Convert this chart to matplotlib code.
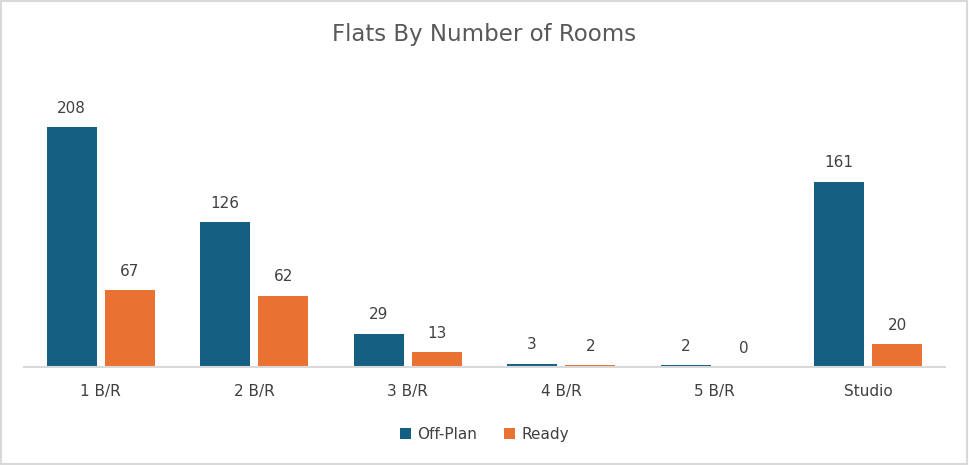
import numpy as np
import matplotlib
matplotlib.use("Agg")
import matplotlib.pyplot as plt
from matplotlib.patches import Rectangle

categories = ["1 B/R", "2 B/R", "3 B/R", "4 B/R", "5 B/R", "Studio"]
off_plan = [208, 126, 29, 3, 2, 161]
ready = [67, 62, 13, 2, 0, 20]

blue = "#156082"
orange = "#E97132"
text_col = "#404040"

plt.rcParams["font.family"] = ["DejaVu Sans"]

fig = plt.figure(figsize=(9.69, 4.65), dpi=100)
fig.patches.append(Rectangle((0.001, 0.002), 0.997, 0.995, transform=fig.transFigure,
                             fill=False, edgecolor="#d9d9d9", linewidth=1.5))

ax = fig.add_axes([24 / 969, (465 - 367) / 465, 921 / 969, (367 - 79) / 465])

x = np.arange(len(categories))
w = 0.326
off = 0.19
b1 = ax.bar(x - off, off_plan, w, color=blue, label="Off-Plan")
b2 = ax.bar(x + off, ready, w, color=orange, label="Ready")

# value labels above each bar
for bars, vals in [(b1, off_plan), (b2, ready)]:
    for b, v in zip(bars, vals):
        ax.annotate(str(v), (b.get_x() + b.get_width() / 2, v), xytext=(0, 8),
                    textcoords="offset points", ha="center", va="bottom",
                    fontsize=11, color=text_col)

ax.set_xlim(-0.5, len(categories) - 0.5)
ax.set_ylim(0, 250)
ax.set_yticks([])
ax.set_xticks(x)
ax.set_xticklabels(categories, fontsize=11, color=text_col)
ax.tick_params(axis="x", length=0, pad=12)
for s in ["top", "right", "left"]:
    ax.spines[s].set_visible(False)
ax.spines["bottom"].set_color("#d9d9d9")
ax.spines["bottom"].set_linewidth(1.5)

fig.suptitle("Flats By Number of Rooms", y=1 - 35 / 465, va="center",
             fontsize=16.5, color="#595959")

fig.legend(handles=[b1, b2], loc="center", bbox_to_anchor=(0.5, 1 - 434 / 465), ncol=2,
           frameon=False, fontsize=11, handlelength=0.7, handleheight=0.7,
           handletextpad=0.4, columnspacing=1.8, labelcolor=text_col)

fig.savefig("out.png", dpi=100)
